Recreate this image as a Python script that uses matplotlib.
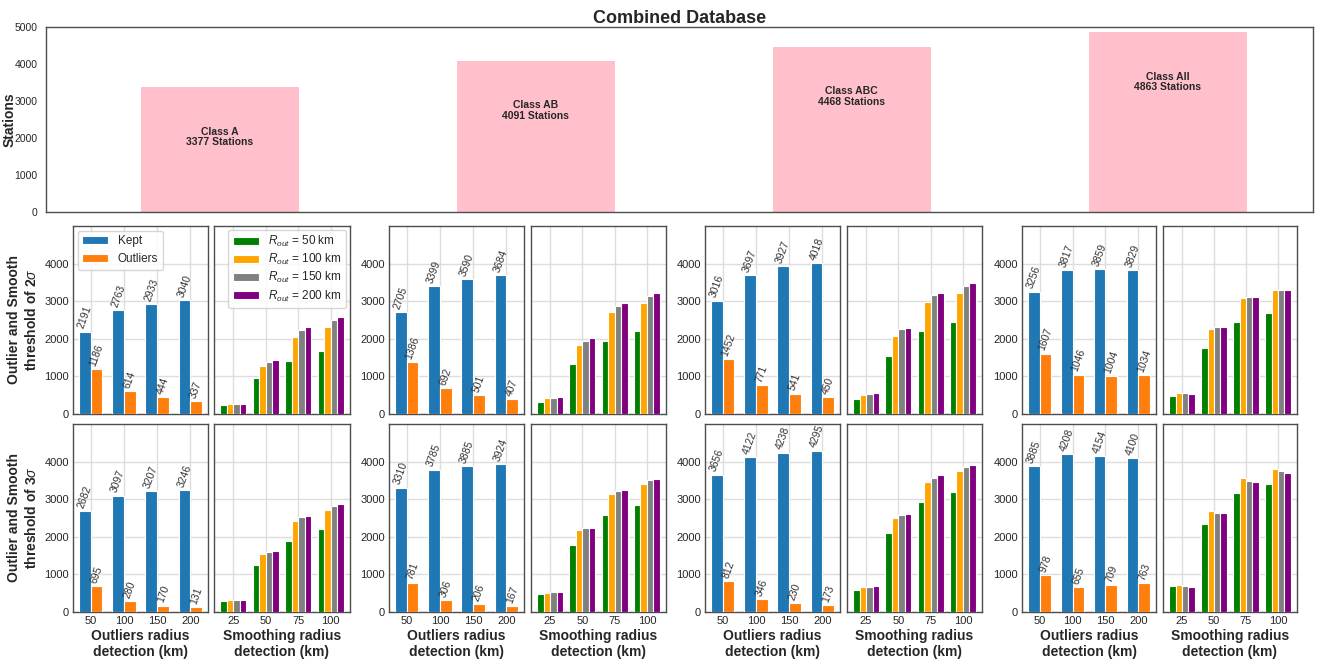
import matplotlib
matplotlib.use("Agg")
import matplotlib.pyplot as plt
import numpy as np

plt.rcParams.update({
    "font.family": ["Liberation Sans", "DejaVu Sans"],
    "mathtext.fontset": "custom",
    "mathtext.rm": "Liberation Sans",
    "mathtext.it": "Liberation Sans:italic",
    "mathtext.bf": "Liberation Sans:bold",
    "text.color": "#262626",
    "axes.labelcolor": "#262626",
    "xtick.color": "#262626",
    "ytick.color": "#262626",
})

# ---- data ----
classes = ["Class A", "Class AB", "Class ABC", "Class All"]
stations = [3377, 4091, 4468, 4863]

outlier_radius = ["50", "100", "150", "200"]
smooth_radius = ["25", "50", "75", "100"]
rout_labels = ["$R_{out}$ = 50 km", "$R_{out}$ = 100 km",
               "$R_{out}$ = 150 km", "$R_{out}$ = 200 km"]

# kept / outliers per class, threshold 2 sigma
kept_2s = {
    "Class A": [2191, 2763, 2933, 3040],
    "Class AB": [2705, 3399, 3590, 3684],
    "Class ABC": [3016, 3697, 3927, 4018],
    "Class All": [3256, 3817, 3859, 3829],
}
out_2s = {
    "Class A": [1186, 614, 444, 337],
    "Class AB": [1386, 692, 501, 407],
    "Class ABC": [1452, 771, 541, 450],
    "Class All": [1607, 1046, 1004, 1034],
}
# kept / outliers per class, threshold 3 sigma
kept_3s = {
    "Class A": [2682, 3097, 3207, 3246],
    "Class AB": [3310, 3785, 3885, 3924],
    "Class ABC": [3656, 4122, 4238, 4295],
    "Class All": [3885, 4208, 4154, 4100],
}
out_3s = {
    "Class A": [695, 280, 170, 131],
    "Class AB": [781, 306, 206, 167],
    "Class ABC": [812, 346, 230, 173],
    "Class All": [978, 655, 709, 763],
}

# smoothing results: rows = R_out (50, 100, 150, 200), cols = smoothing radius
smooth_2s = {
    "Class A": [[230, 955, 1415, 1680],
                [265, 1265, 2050, 2310],
                [265, 1390, 2230, 2505],
                [265, 1440, 2310, 2585]],
    "Class AB": [[330, 1335, 1945, 2205],
                 [425, 1825, 2700, 2945],
                 [425, 1945, 2875, 3140],
                 [450, 2010, 2955, 3230]],
    "Class ABC": [[405, 1555, 2205, 2435],
                  [515, 2080, 2985, 3205],
                  [540, 2255, 3170, 3415],
                  [550, 2285, 3220, 3480]],
    "Class All": [[485, 1760, 2460, 2680],
                  [565, 2265, 3090, 3285],
                  [550, 2320, 3125, 3300],
                  [540, 2320, 3100, 3300]],
}
smooth_3s = {
    "Class A": [[285, 1255, 1900, 2195],
                [310, 1530, 2410, 2720],
                [310, 1590, 2515, 2825],
                [310, 1610, 2550, 2860]],
    "Class AB": [[480, 1785, 2570, 2855],
                 [515, 2170, 3140, 3415],
                 [535, 2230, 3225, 3510],
                 [535, 2230, 3255, 3545]],
    "Class ABC": [[585, 2105, 2925, 3200],
                  [660, 2505, 3465, 3750],
                  [675, 2580, 3565, 3860],
                  [685, 2610, 3635, 3910]],
    "Class All": [[685, 2345, 3165, 3415],
                  [710, 2675, 3555, 3815],
                  [685, 2640, 3495, 3760],
                  [665, 2640, 3470, 3705]],
}

rout_colors = ["green", "orange", "grey", "purple"]
kept_color = "#1f77b4"
out_color = "#ff7f0e"

W, H = 1325, 664
fig = plt.figure(figsize=(W / 100, H / 100), dpi=100)


def add_axes_px(x0, y0, x1, y1):
    return fig.add_axes([x0 / W, 1 - y1 / H, (x1 - x0) / W, (y1 - y0) / H])


def style_spines(ax):
    for s in ax.spines.values():
        s.set_color("#4d4d4d")
        s.set_linewidth(1.0)


# ---- top overview panel ----
ax_top = add_axes_px(46, 27, 1313, 212)
xc = np.arange(len(classes))
ax_top.bar(xc, stations, width=0.5, color="pink")
for x, name, n in zip(xc, classes, stations):
    ax_top.text(x, n - 1350, f"{name}\n{n} Stations", ha="center", va="center",
                fontsize=7.5, fontweight="bold", color="#262626", linespacing=1.1)
ax_top.set_xlim(-0.55, 3.46)
ax_top.set_ylim(0, 5000)
ax_top.set_yticks([0, 1000, 2000, 3000, 4000, 5000])
ax_top.set_xticks([])
ax_top.tick_params(axis="y", labelsize=7.5, length=0, pad=6)
ax_top.set_ylabel("Stations", fontsize=10, fontweight="bold")
ax_top.yaxis.set_label_coords(-0.0235, 0.5)
ax_top.set_title("Combined Database", fontsize=13, fontweight="bold", pad=3)
style_spines(ax_top)

# ---- lower grid ----
col_px = [(73, 208), (214, 350), (389, 524), (531, 666),
          (705, 840), (847, 982), (1022, 1156), (1163, 1297)]
row_px = [(226, 414), (424, 612)]

thresholds = [(kept_2s, out_2s, smooth_2s, "2"), (kept_3s, out_3s, smooth_3s, "3")]

for r, (kept_d, out_d, smooth_d, sig) in enumerate(thresholds):
    y0, y1 = row_px[r]
    for c, name in enumerate(classes):
        # outlier detection panel
        xa0, xa1 = col_px[2 * c]
        ax = add_axes_px(xa0, y0, xa1, y1)
        x = np.arange(len(outlier_radius))
        w = 0.35
        ax.bar(x - w / 2, kept_d[name], width=w, color=kept_color,
               edgecolor="white", linewidth=0.8, label="Kept", zorder=3)
        ax.bar(x + w / 2, out_d[name], width=w, color=out_color,
               edgecolor="white", linewidth=0.8, label="Outliers", zorder=3)
        for xi, v in zip(x - w / 2, kept_d[name]):
            ax.text(xi, v + 40, str(v), rotation=70, ha="center", va="bottom",
                    fontsize=7.5, color="#333333")
        for xi, v in zip(x + w / 2, out_d[name]):
            ax.text(xi, v + 40, str(v), rotation=70, ha="center", va="bottom",
                    fontsize=7.5, color="#333333")
        ax.set_ylim(0, 5000)
        ax.set_yticks([0, 1000, 2000, 3000, 4000])
        ax.set_xticks(x)
        ax.grid(True, color="#dddddd", linewidth=1.0, zorder=0)
        ax.set_axisbelow(True)
        ax.tick_params(length=0, labelsize=8, pad=3)
        if r == 1:
            ax.set_xticklabels(outlier_radius)
            ax.set_xlabel("Outliers radius\ndetection (km)", fontsize=10,
                          fontweight="bold", labelpad=2)
        else:
            ax.set_xticklabels([])
        if c == 0:
            ax.set_ylabel(f"Outlier and Smooth\nthreshold of {sig}$\\sigma$",
                          fontsize=10, fontweight="bold", labelpad=4)
        if r == 0 and c == 0:
            ax.legend(loc="upper left", fontsize=8.5, frameon=True,
                      borderaxespad=0.4, handlelength=2.2)
        style_spines(ax)

        # smoothing panel
        xs0, xs1 = col_px[2 * c + 1]
        axs = add_axes_px(xs0, y0, xs1, y1)
        xs = np.arange(len(smooth_radius))
        ws = 0.2
        for k, (vals, col, lab) in enumerate(zip(smooth_d[name], rout_colors, rout_labels)):
            axs.bar(xs + (k - 1.5) * ws, vals, width=ws, color=col,
                    edgecolor="white", linewidth=0.8, label=lab, zorder=3)
        axs.set_ylim(0, 5000)
        axs.set_yticks([0, 1000, 2000, 3000, 4000])
        axs.set_yticklabels([])
        axs.set_xticks(xs)
        axs.grid(True, color="#dddddd", linewidth=1.0, zorder=0)
        axs.set_axisbelow(True)
        axs.tick_params(length=0, labelsize=8, pad=3)
        if r == 1:
            axs.set_xticklabels(smooth_radius)
            axs.set_xlabel("Smoothing radius\ndetection (km)", fontsize=10,
                           fontweight="bold", labelpad=2)
        else:
            axs.set_xticklabels([])
        if r == 0 and c == 0:
            axs.legend(loc="upper right", fontsize=8.5, frameon=True,
                       borderaxespad=0.3, handlelength=2.2, labelspacing=0.25)
        style_spines(axs)

fig.savefig("out.png", dpi=100)
